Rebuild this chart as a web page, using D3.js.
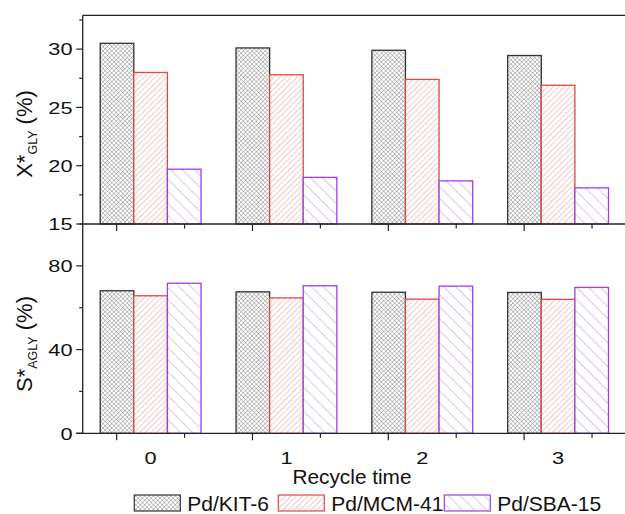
<!DOCTYPE html>
<html>
<head>
<meta charset="utf-8">
<script src="https://cdn.jsdelivr.net/npm/d3@7"></script>
<style>
  html, body { margin: 0; padding: 0; background: #fff; }
  svg { display: block; }
  text { font-family: "Liberation Sans", Arial, sans-serif; fill: #111; }
</style>
</head>
<body>
<div id="chart"></div>
<script>
// Recycle runs and catalyst series
const recycleTimes = [0, 1, 2, 3];
const catalysts = ["Pd/KIT-6", "Pd/MCM-41", "Pd/SBA-15"];

// Glycerol conversion X*GLY (%) per catalyst, one value per recycle run
const conversionKIT6 = [30.5, 30.1, 29.9, 29.45];
const conversionMCM41 = [28.0, 27.8, 27.4, 26.9];
const conversionSBA15 = [19.7, 19.0, 18.7, 18.1];

// Selectivity S*AGLY (%) per catalyst, one value per recycle run
const selectivityKIT6 = [68.1, 67.6, 67.4, 67.3];
const selectivityMCM41 = [65.7, 64.7, 64.1, 64.0];
const selectivitySBA15 = [71.7, 70.5, 70.3, 69.7];

// Axis ticks
const conversionMajorTicks = [15, 20, 25, 30];
const conversionMinorTicks = [17.5, 22.5, 27.5, 32.5];
const selectivityMajorTicks = [0, 40, 80];
const selectivityMinorTicks = [20, 60, 100];

const W = 625, H = 514;
const left = 82.7, right = 626;
const topY = 15.3, midY = 224, botY = 433.3;

const svg = d3.select("#chart").append("svg")
  .attr("width", W).attr("height", H);

// Fill patterns for the three catalysts
const defs = svg.append("defs");
function hatch(id, angle, spacing, color, width) {
  const p = defs.append("pattern")
    .attr("id", id)
    .attr("patternUnits", "userSpaceOnUse")
    .attr("width", spacing).attr("height", spacing)
    .attr("patternTransform", `rotate(${angle})`);
  p.append("rect").attr("width", spacing).attr("height", spacing).attr("fill", "#fff");
  p.append("line").attr("x1", 0).attr("y1", 0).attr("x2", 0).attr("y2", spacing)
    .attr("stroke", color).attr("stroke-width", width);
  return p;
}
const cross = hatch("pat-kit", 45, 3.1, "#6a6a6a", 0.7);
cross.append("line").attr("x1", 0).attr("y1", 0).attr("x2", 3.1).attr("y2", 0)
  .attr("stroke", "#6a6a6a").attr("stroke-width", 0.7);
hatch("pat-mcm", 45, 4.0, "#e68686", 0.9);
hatch("pat-sba", -45, 8.5, "#b58de9", 1.0);

const styles = {
  "Pd/KIT-6": { fill: "url(#pat-kit)", stroke: "#333333" },
  "Pd/MCM-41": { fill: "url(#pat-mcm)", stroke: "#e04848" },
  "Pd/SBA-15": { fill: "url(#pat-sba)", stroke: "#9d3fe6" }
};

const x = d3.scaleLinear().domain([-0.5, 3.5]).range([left, right]);
const inner = d3.scaleBand().domain(catalysts).range([-50.4, 50.4]).padding(0);

const yTop = d3.scaleLinear().domain([15, 32.9]).range([midY, topY]);
const yBot = d3.scaleLinear().domain([0, 100]).range([botY, midY]);

function rows(a, b, c) {
  return recycleTimes.map((t, i) => [
    { t, cat: catalysts[0], v: a[i] },
    { t, cat: catalysts[1], v: b[i] },
    { t, cat: catalysts[2], v: c[i] }
  ]).flat();
}

function drawBars(data, y, base) {
  svg.append("g").selectAll("rect").data(data).join("rect")
    .attr("x", d => x(d.t) + inner(d.cat))
    .attr("width", inner.bandwidth())
    .attr("y", d => y(d.v))
    .attr("height", d => y(base) - y(d.v))
    .attr("fill", d => styles[d.cat].fill)
    .attr("stroke", d => styles[d.cat].stroke)
    .attr("stroke-width", 1.3);
}

drawBars(rows(conversionKIT6, conversionMCM41, conversionSBA15), yTop, 15);
drawBars(rows(selectivityKIT6, selectivityMCM41, selectivitySBA15), yBot, 0);

// Frame lines
const frame = svg.append("g").attr("stroke", "#222").attr("stroke-width", 1.3).attr("fill", "none");
frame.append("line").attr("x1", left).attr("x2", W).attr("y1", topY).attr("y2", topY);
frame.append("line").attr("x1", left).attr("x2", W).attr("y1", midY).attr("y2", midY);
frame.append("line").attr("x1", left - 6.5).attr("x2", W).attr("y1", botY).attr("y2", botY);
frame.append("line").attr("x1", left).attr("x2", left).attr("y1", topY).attr("y2", botY);

// Horizontal-stretched text helper
function label(g, px, py, str, size, sx, anchor) {
  return g.append("text")
    .attr("transform", `translate(${px},${py}) scale(${sx},1)`)
    .attr("text-anchor", anchor)
    .attr("font-size", size)
    .text(str);
}

// Y axes
function yAxis(y, majors, minors) {
  const g = svg.append("g").attr("stroke", "#222").attr("stroke-width", 1.2);
  g.selectAll(".mj").data(majors).join("line")
    .attr("x1", left - 6.5).attr("x2", left).attr("y1", d => y(d)).attr("y2", d => y(d));
  g.selectAll(".mn").data(minors).join("line")
    .attr("x1", left - 3.5).attr("x2", left).attr("y1", d => y(d)).attr("y2", d => y(d));
  const t = svg.append("g");
  majors.forEach(v => label(t, 72.5, y(v) + 6.2, String(v), 17, 1.28, "end"));
}
yAxis(yTop, conversionMajorTicks, conversionMinorTicks);
yAxis(yBot, selectivityMajorTicks, selectivityMinorTicks);

// X ticks under each panel: long ticks between groups offset left, short ones offset right
function xTicks(yPos) {
  const g = svg.append("g").attr("stroke", "#222").attr("stroke-width", 1.2);
  g.selectAll(".mj").data(recycleTimes).join("line")
    .attr("x1", d => x(d - 0.25)).attr("x2", d => x(d - 0.25))
    .attr("y1", yPos).attr("y2", yPos + 7);
  g.selectAll(".mn").data(recycleTimes).join("line")
    .attr("x1", d => x(d + 0.25)).attr("x2", d => x(d + 0.25))
    .attr("y1", yPos).attr("y2", yPos + 4.5);
}
xTicks(midY);
xTicks(botY);

const xl = svg.append("g");
recycleTimes.forEach(t => label(xl, x(t), 464, String(t), 17, 1.28, "middle"));
label(xl, 352, 483.5, "Recycle time", 20, 1.04, "middle");

// Y titles
function yTitle(cy, main, sub) {
  const tx = svg.append("text")
    .attr("transform", `translate(32,${cy}) rotate(-90)`)
    .attr("text-anchor", "middle")
    .attr("font-size", 22);
  tx.append("tspan").text(main + "*");
  tx.append("tspan").attr("font-size", 12.5).attr("dy", 5).text(sub);
  tx.append("tspan").attr("dy", -5).text(" (%)");
}
yTitle(134, "X", "GLY");
yTitle(344, "S", "AGLY");

// Legend
const legendX = [134.3, 278.3, 444.3];
const lg = svg.append("g");
catalysts.forEach((c, i) => {
  lg.append("rect")
    .attr("x", legendX[i]).attr("y", 495)
    .attr("width", 46).attr("height", 16)
    .attr("fill", styles[c].fill)
    .attr("stroke", styles[c].stroke)
    .attr("stroke-width", 1.2);
  lg.append("text")
    .attr("x", legendX[i] + 53).attr("y", 510.5)
    .attr("font-size", 21)
    .text(c);
});
</script>
</body>
</html>
